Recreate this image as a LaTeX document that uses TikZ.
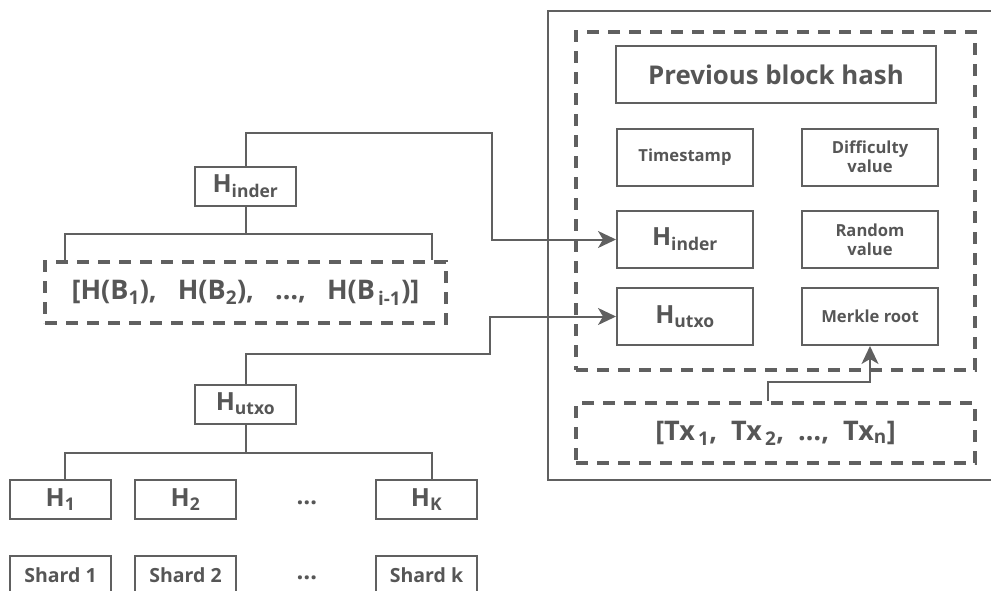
\documentclass[tikz,border=0pt]{standalone}
\usepackage{fontspec}
\setmainfont{Open Sans}
\usetikzlibrary{positioning,arrows.meta}
\definecolor{boxdraw}{RGB}{96,96,96}
\definecolor{boxtext}{RGB}{86,86,86}

\begin{document}
\begin{tikzpicture}[
  x=1pt, y=-1pt,
  font=\bfseries, text=boxtext,
  field/.style={draw=boxdraw, line width=2pt, align=center, inner sep=0pt,
                minimum width=136pt, minimum height=57pt},
  leaf/.style={draw=boxdraw, line width=2pt, align=center, inner sep=0pt,
               minimum width=101pt, minimum height=39pt},
  pool/.style={draw=boxdraw, line width=4pt, dash pattern=on 12pt off 9pt,
               inner sep=0pt},
  link/.style={draw=boxdraw, line width=2pt},
  sig/.style={-{Stealth[length=18pt, width=17pt, inset=5pt]}, line width=2pt,
              draw=boxdraw}
]
\useasboundingbox (0,0) rectangle (991,590);

% Right: the block and its header fields
\node[draw=boxdraw, line width=2pt, minimum width=444pt, minimum height=469pt,
      inner sep=0pt] (block) at (770,245.5) {};
\node[pool, minimum width=399pt, minimum height=338pt] (header) at (775.5,201) {};
\node[field, minimum width=320pt, font=\bfseries\fontsize{25.8}{30}\selectfont]
  (prev) at (776,74.5) {Previous block hash};

\node[field, font=\bfseries\fontsize{16.6}{19}\selectfont] (time) at (685,157)
  {Timestamp};
\node[field, font=\bfseries\fontsize{16.6}{19}\selectfont] (diff) at (870,157)
  {Difficulty\\value};
\node[field, font=\bfseries\fontsize{25}{28}\selectfont] (hinderR) at (685,239.5)
  {H\textsubscript{inder}};
\node[field, font=\bfseries\fontsize{16.6}{19}\selectfont] (rand) at (870,239.5)
  {Random\\value};
\node[field, font=\bfseries\fontsize{25}{28}\selectfont] (hutxoR) at (685,316.5)
  {H\textsubscript{utxo}};
\node[field, font=\bfseries\fontsize{16.6}{19}\selectfont] (merkle) at (870,316.5)
  {Merkle root};

% Transactions of the block
\node[pool, minimum width=399pt, minimum height=60pt,
      font=\bfseries\fontsize{27}{30}\selectfont] (txs) at (775.5,433)
  {[Tx\textsubscript{\,1},\ \ Tx\textsubscript{\,2},\ \ \dots,\ \ Tx\textsubscript{n}]};

% Left top: index hash over previous blocks
\node[leaf, font=\bfseries\fontsize{25}{28}\selectfont] (hinderL) at (245.5,186.5)
  {H\textsubscript{inder}};
\node[pool, minimum width=401pt, minimum height=61pt,
      font=\bfseries\fontsize{27}{30}\selectfont] (hashes) at (245.5,292.5)
  {[H(B\textsubscript{1}),\ \ \ H(B\textsubscript{2}),\ \ \ \dots,\ \ \ H(B\textsubscript{\,i-1})]};

% Left bottom: utxo hash over shards
\node[leaf, font=\bfseries\fontsize{25}{28}\selectfont] (hutxoL) at (245.5,404)
  {H\textsubscript{utxo}};
\node[leaf, font=\bfseries\fontsize{25}{28}\selectfont] (h1) at (60.5,499.5)
  {H\textsubscript{1}};
\node[leaf, font=\bfseries\fontsize{25}{28}\selectfont] (h2) at (185.5,499.5)
  {H\textsubscript{2}};
\node[font=\bfseries\fontsize{24}{28}\selectfont] (hdots) at (307,503) {\dots};
\node[leaf, font=\bfseries\fontsize{25}{28}\selectfont] (hk) at (426.5,499.5)
  {H\textsubscript{K}};

\node[leaf, font=\bfseries\fontsize{19.5}{22}\selectfont] (s1) at (60.5,575.5)
  {Shard 1};
\node[leaf, font=\bfseries\fontsize{19.5}{22}\selectfont] (s2) at (185.5,575.5)
  {Shard 2};
\node[font=\bfseries\fontsize{24}{28}\selectfont] (sdots) at (307,578) {\dots};
\node[leaf, font=\bfseries\fontsize{19.5}{22}\selectfont] (sk) at (426.5,575.5)
  {Shard k};

% Tree links
\draw[link] (hinderL.south) -- (245.5,234) coordinate (ifork);
\draw[link] (hashes.north -| 65,0) |- (ifork) -| (hashes.north -| 432,0);
\draw[link] (hutxoL.south) -- (245.5,453) coordinate (ufork);
\draw[link] (h1.north -| 65,0) |- (ufork) -| (hk.north -| 432,0);

% Hashes flow into the header
\draw[sig] (hinderL.north) |- (492,133) |- (hinderR.west);
\draw[sig] (hutxoL.north) |- (490,354) |- (hutxoR.west);
\draw[sig] (txs.north -| 768,0) |- (870,382) -- (merkle.south);

\end{tikzpicture}
\end{document}
